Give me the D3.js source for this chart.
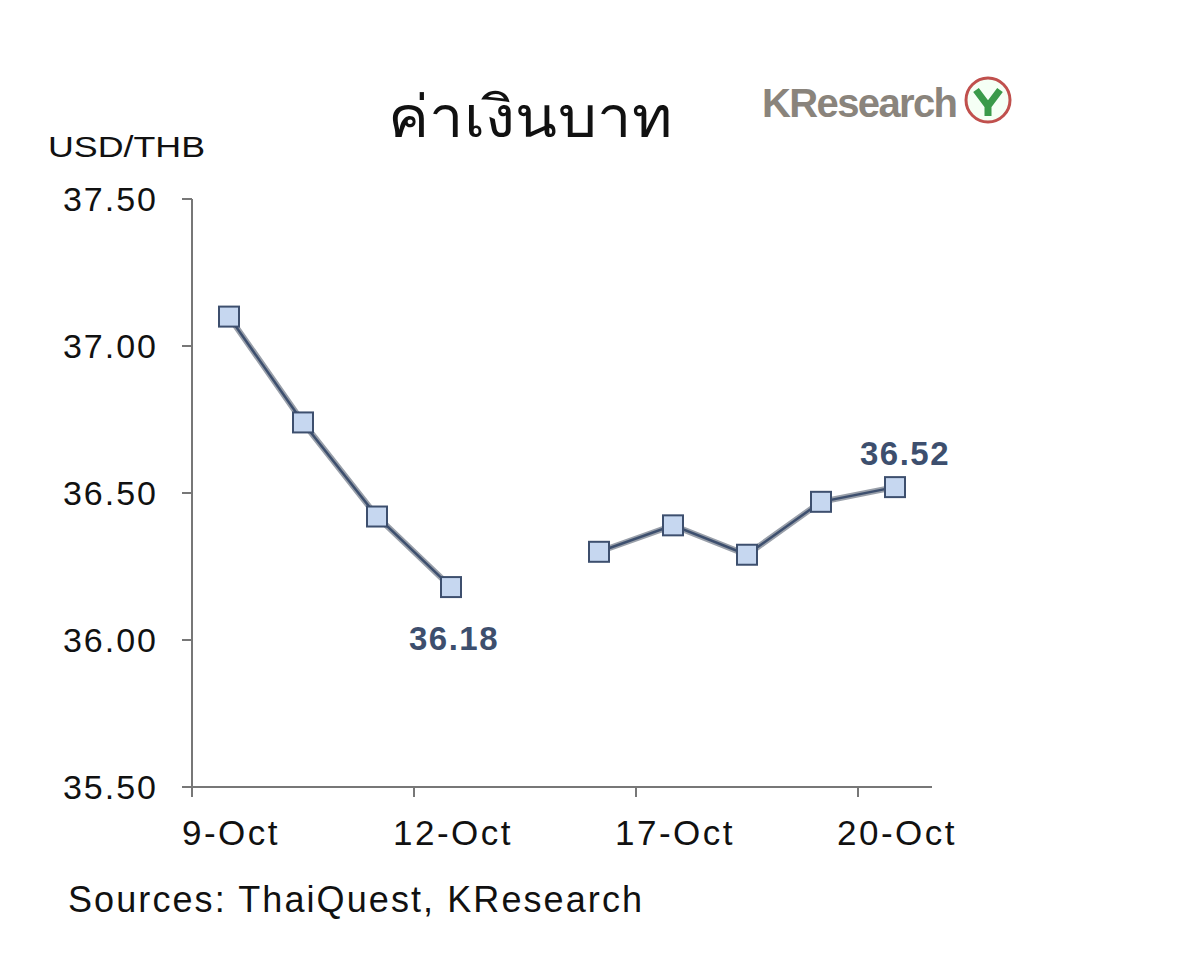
<!DOCTYPE html>
<html><head><meta charset="utf-8">
<script src="https://cdn.jsdelivr.net/npm/d3@7"></script>
<style>body{margin:0;background:#fff}</style>
</head><body><div id="chart"></div>
<script>
const dates = ["9-Oct","10-Oct","11-Oct","12-Oct","13-Oct","16-Oct","17-Oct","18-Oct","19-Oct","20-Oct"];
const rates = [37.10, 36.74, 36.42, 36.18, null, 36.30, 36.39, 36.29, 36.47, 36.52];
const yTicks = [35.5, 36.0, 36.5, 37.0, 37.5];
const shownLabels = ["9-Oct","12-Oct","17-Oct","20-Oct"];

const svg = d3.select("#chart").append("svg").attr("width", 1200).attr("height", 958);

const x = d3.scaleBand().domain(dates).range([192, 932]);
const y = d3.scaleLinear().domain([35.5, 37.5]).range([787, 199]);

// title and logo
svg.append("text").attr("x", 530).attr("y", 137).attr("text-anchor", "middle")
  .attr("font-family", "Noto Sans, sans-serif").attr("font-size", 58).attr("fill", "#111")
  .attr("textLength", 284).attr("lengthAdjust", "spacingAndGlyphs")
  .text("ค่าเงินบาท");
svg.append("text").attr("x", 762).attr("y", 117)
  .attr("font-family", "Liberation Sans, sans-serif").attr("font-weight", "bold")
  .attr("font-size", 40).attr("fill", "#8a847c").attr("textLength", 196).text("KResearch");
svg.append("circle").attr("cx", 988).attr("cy", 100).attr("r", 22)
  .attr("fill", "#f5fff5").attr("stroke", "#c0504d").attr("stroke-width", 3);
svg.append("path").attr("d", "M976,90 L988,106 L1000,90 M988,106 L988,116")
  .attr("stroke", "#3a9a4a").attr("stroke-width", 7).attr("fill", "none");

const txt = (sel) => sel.attr("font-family", "Liberation Sans, sans-serif").attr("fill", "#111");

txt(svg.append("text")).attr("x", 48).attr("y", 157).attr("font-size", 30)
  .attr("textLength", 157).attr("lengthAdjust", "spacingAndGlyphs").text("USD/THB");

// y axis
svg.append("line").attr("x1", 192).attr("x2", 192).attr("y1", 199).attr("y2", 787)
  .attr("stroke", "#777").attr("stroke-width", 2);
yTicks.forEach(t => {
  svg.append("line").attr("x1", 182).attr("x2", 192).attr("y1", y(t)).attr("y2", y(t))
    .attr("stroke", "#777").attr("stroke-width", 2);
  txt(svg.append("text")).attr("x", 158).attr("y", y(t) + 12).attr("text-anchor", "end")
    .attr("font-size", 34).attr("letter-spacing", 2).text(t.toFixed(2));
});

// x axis
svg.append("line").attr("x1", 192).attr("x2", 932).attr("y1", 787).attr("y2", 787)
  .attr("stroke", "#777").attr("stroke-width", 2);
dates.forEach((d, i) => {
  if (i % 3 === 0) {
    svg.append("line").attr("x1", x(d)).attr("x2", x(d)).attr("y1", 787).attr("y2", 797)
      .attr("stroke", "#777").attr("stroke-width", 2);
  }
});
shownLabels.forEach(d => {
  txt(svg.append("text")).attr("x", x(d) + x.bandwidth() / 2 + 2).attr("y", 845)
    .attr("text-anchor", "middle").attr("font-size", 35).attr("letter-spacing", 2.5).text(d);
});

// line
const pts = dates.map((d, i) => ({d, v: rates[i]}));
const line = d3.line().defined(p => p.v != null)
  .x(p => x(p.d) + x.bandwidth() / 2).y(p => y(p.v));
svg.append("path").datum(pts).attr("d", line).attr("fill", "none")
  .attr("stroke", "#9aa0aa").attr("stroke-width", 6);
svg.append("path").datum(pts).attr("d", line).attr("fill", "none")
  .attr("stroke", "#3d4f6e").attr("stroke-width", 2.5);
svg.selectAll("rect.pt").data(pts.filter(p => p.v != null)).enter().append("rect")
  .attr("x", p => x(p.d) + x.bandwidth() / 2 - 10).attr("y", p => y(p.v) - 10)
  .attr("width", 20).attr("height", 20)
  .attr("fill", "#c6d7f0").attr("stroke", "#3d4f6e").attr("stroke-width", 2);

// value labels
svg.append("text").attr("x", x("12-Oct") + x.bandwidth() / 2 + 3).attr("y", y(36.18) + 63)
  .attr("text-anchor", "middle").attr("font-family", "Liberation Sans, sans-serif")
  .attr("font-weight", "bold").attr("font-size", 33).attr("letter-spacing", 1.5)
  .attr("fill", "#3d4f6e").text("36.18");
svg.append("text").attr("x", x("20-Oct") + x.bandwidth() / 2 + 10).attr("y", y(36.52) - 22)
  .attr("text-anchor", "middle").attr("font-family", "Liberation Sans, sans-serif")
  .attr("font-weight", "bold").attr("font-size", 33).attr("letter-spacing", 1.5)
  .attr("fill", "#3d4f6e").text("36.52");

txt(svg.append("text")).attr("x", 68).attr("y", 912).attr("font-size", 36)
  .attr("textLength", 574).text("Sources: ThaiQuest, KResearch");
</script></body></html>
